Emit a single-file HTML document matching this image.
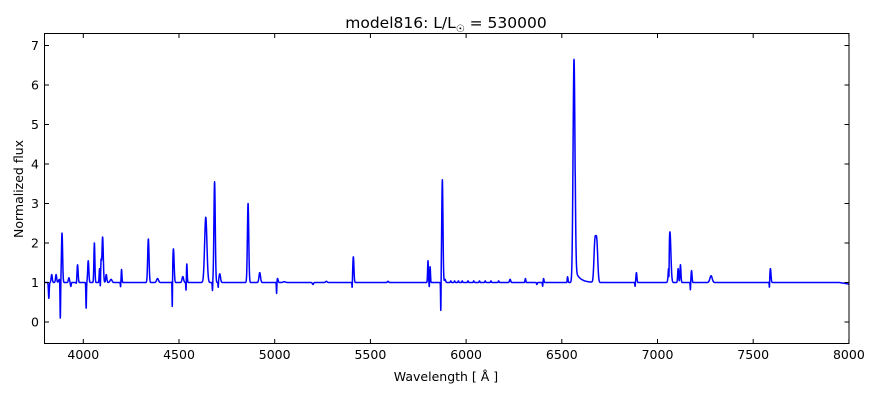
<!DOCTYPE html>
<html><head><meta charset="utf-8"><style>
body{margin:0;background:#fff;}
svg text{font-family:"DejaVu Sans","Liberation Sans",sans-serif;fill:#000}
</style></head><body>
<svg id="s" width="880" height="400" viewBox="0 0 880 400" xmlns="http://www.w3.org/2000/svg">
<rect width="880" height="400" fill="#fff"/>
<text x="446" y="28" font-size="15.5" text-anchor="middle">model816: L/L<tspan font-size="10" dy="4">☉</tspan><tspan dy="-4"> = 530000</tspan></text>
<path id="spec" fill="none" stroke="#0000ff" stroke-width="1.5" stroke-linejoin="round"/>
<rect x="44.5" y="33.5" width="804.5" height="310" fill="none" stroke="#000" stroke-width="1"/>
<g id="ticks" stroke="#000" stroke-width="1"></g>
<g id="labels" font-size="12.5"></g>
<text x="446" y="381" font-size="12.5" text-anchor="middle">Wavelength [ Å ]</text>
<text transform="translate(23,189) rotate(-90)" font-size="12.5" text-anchor="middle">Normalized flux</text>
</svg>
<script>
var X0=45,XS=191.4/1000,Y0=322,YS=39.5;
function px(l){return X0+(l-3800)*XS;}
function py(f){return Y0-f*YS;}
var F=[
[3820,-0.4,2],[3835,0.2,3],[3858,0.2,3],[3875,0.08,4],[3880,-0.95,1.5],[3889,1.25,3],
[3925,0.12,3],[3935,-0.1,2],[3965,-0.08,2],[3970,0.45,3],[4015,-0.65,1.5],[4026,0.55,3],
[4058,1.0,2.5],[4085,0.35,2],[4089,-0.2,1.2],[4093,0.5,2],[4101,1.15,3.5],[4120,0.2,3],[4145,0.08,5],
[4195,-0.12,1.2],[4200,0.33,2],[4340,1.1,3.5],[4388,0.1,5],[4465,-0.8,1.2],[4471,0.85,3.5],
[4520,0.15,4],[4537,-0.25,1.2],[4541,0.47,2],[4640,1.65,6],[4675,-0.22,1.2],[4686,2.55,3.5],
[4705,-0.15,1.2],[4713,0.22,4],[4861,2.0,3.5],[4922,0.25,4],[5010,-0.3,1.2],[5015,0.1,3],[5050,0.02,6],
[5200,-0.05,3],[5270,0.03,4],[5405,-0.2,1.2],[5411,0.65,3],[5592,0.03,3],[5801,0.55,2],[5808,-0.15,1.2],[5812,0.4,2],
[5868,-0.82,1.2],[5876,2.6,3.2],[5890,0.08,3],[5920,0.04,2],[5940,0.04,2],[5960,0.04,2],[5980,0.04,2],[6010,0.04,2],
[6040,0.04,2],[6070,0.04,2],[6100,0.04,2],[6130,0.04,2],[6170,0.04,2],[6230,0.08,3],[6310,0.1,2],[6370,-0.05,2],
[6405,0.1,2],[6400,-0.1,1.2],[6527,-0.05,1.5],[6530,0.15,2.5],[6564,5.65,5],[6673,0.98,5],[6683,0.98,5],
[6883,-0.1,1.2],[6890,0.25,2.5],[7060,-0.6,1.2],[7065,1.28,5],[7108,0.35,2.5],[7120,0.45,2.5],[7172,-0.2,1.2],[7178,0.3,2.5],
[7280,0.17,6],[7585,-0.2,1.2],[7590,0.35,3]];
var d="";
for(var l=3800;l<=8000;l+=0.5){
 var f=1;
 for(var i=0;i<F.length;i++){var t=(l-F[i][0])/F[i][2];if(Math.abs(t)<8)f+=F[i][1]*Math.exp(-0.5*t*t);}
 if(l>6570&&l<6660)f+=0.3*Math.exp(-(l-6570)/25);
 if(l>7950)f-=0.04*(l-7950)/50;
 d+=(d?"L":"M")+px(l).toFixed(2)+" "+py(f).toFixed(2);
}
document.getElementById("spec").setAttribute("d",d);
var tk="",lb="";
for(var x=4000;x<=8000;x+=500){var p=px(x).toFixed(1);
 tk+='<line x1="'+p+'" y1="343.5" x2="'+p+'" y2="339"/><line x1="'+p+'" y1="33.5" x2="'+p+'" y2="38"/>';
 lb+='<text x="'+p+'" y="359" text-anchor="middle">'+x+'</text>';}
for(var y=0;y<=7;y++){var q=py(y).toFixed(1);
 tk+='<line x1="44.5" y1="'+q+'" x2="49" y2="'+q+'"/><line x1="849" y1="'+q+'" x2="844.5" y2="'+q+'"/>';
 lb+='<text x="39" y="'+(py(y)+4.5).toFixed(1)+'" text-anchor="end">'+y+'</text>';}
document.getElementById("ticks").innerHTML=tk;
document.getElementById("labels").innerHTML=lb;
</script>
</body></html>
